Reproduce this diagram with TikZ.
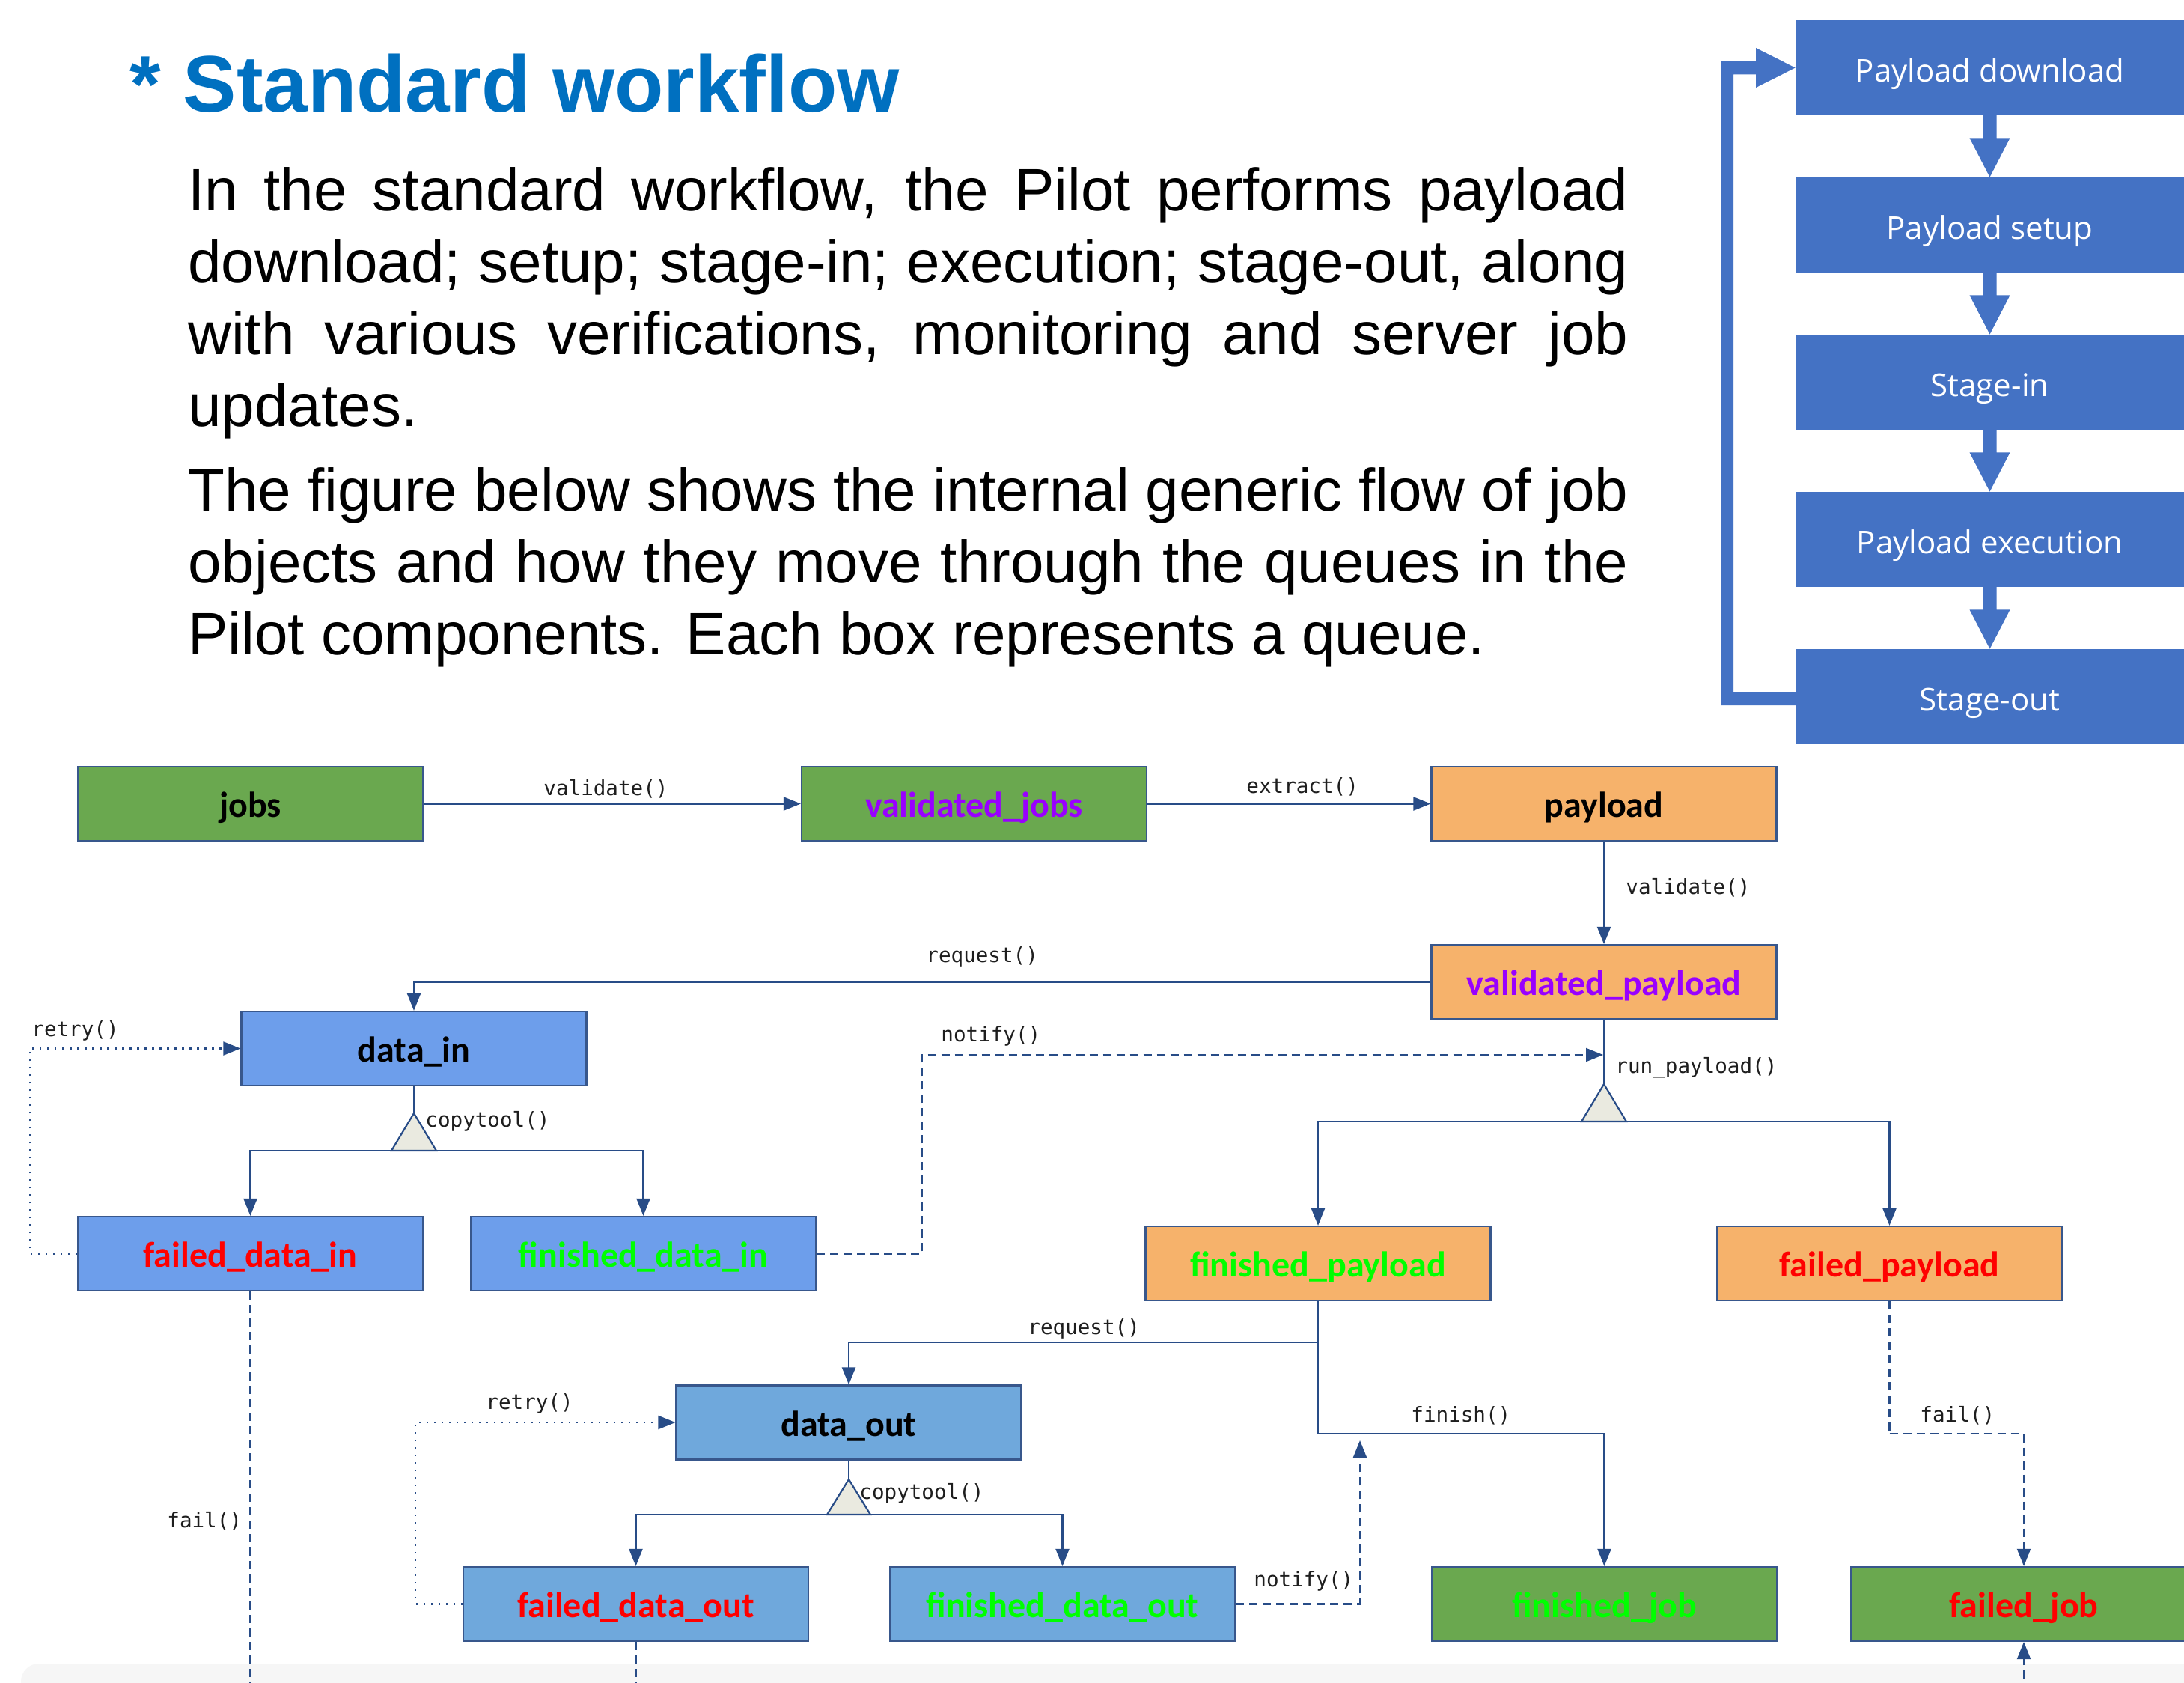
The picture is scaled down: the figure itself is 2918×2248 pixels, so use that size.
\documentclass[tikz,border=0pt]{standalone}
\usepackage{fontspec}
\setmainfont{Liberation Sans}
\newfontfamily\boxfont{Carlito}
\newfontfamily\flowfont{Open Sans}
\newfontfamily\lblfont{DejaVu Sans Mono}
\usetikzlibrary{arrows.meta,calc}
\definecolor{titleblue}{RGB}{0,112,192}
\definecolor{flowblue}{RGB}{68,114,196}
\definecolor{boxgreen}{RGB}{106,168,79}
\definecolor{boxorange}{RGB}{246,178,107}
\definecolor{boxblueA}{RGB}{109,158,235}
\definecolor{boxblueB}{RGB}{111,168,220}
\definecolor{txtpurple}{RGB}{153,0,255}
\definecolor{txtred}{RGB}{255,0,0}
\definecolor{txtgreen}{RGB}{0,255,0}
\definecolor{trifill}{RGB}{234,234,224}
\definecolor{edge}{RGB}{40,76,135}
\definecolor{bord}{RGB}{56,87,140}
\definecolor{lbltext}{RGB}{30,30,30}
\definecolor{band}{RGB}{246,246,246}
\begin{document}
\begin{tikzpicture}[x=0.5pt,y=-0.5pt,
  qbox/.style={rectangle, draw=bord, line width=1.1pt, minimum width=230.5pt, minimum height=49.5pt, inner sep=0pt,
    font=\boxfont\bfseries\fontsize{24}{24}\selectfont, text height=18.5pt, text depth=0.5pt},
  gbox/.style={qbox, fill=boxgreen},
  obox/.style={qbox, fill=boxorange},
  bAbox/.style={qbox, fill=boxblueA},
  bBbox/.style={qbox, fill=boxblueB},
  flowbox/.style={rectangle, fill=flowblue, minimum width=259.5pt, minimum height=63.5pt, inner sep=0pt, text=white,
    font=\flowfont\fontsize{21}{21}\selectfont, text height=19.5pt, text depth=0.5pt},
  lbl/.style={anchor=west, inner sep=0pt, font=\lblfont\fontsize{13.8}{14}\selectfont, text=lbltext},
  para/.style={anchor=base west, inner sep=0pt, font=\fontsize{40}{48}\selectfont},
  conn/.style={draw=edge, line width=1.1pt},
  arr/.style={conn, -{Triangle[length=11.5pt,width=9pt]}},
  dasharr/.style={arr, dash pattern=on 5.5pt off 3.5pt},
  dashline/.style={conn, dash pattern=on 5.5pt off 3.5pt},
  dotarr/.style={arr, dash pattern=on 1.2pt off 3.8pt},
  trishape/.style={fill=trifill, draw=edge, line width=1.1pt, line join=miter}
]
\clip (0,0) rectangle (2918,2248);
\fill[white] (0,0) rectangle (2918,2248);
\fill[band, rounded corners=12pt] (28,2222) rectangle (2960,2300);

% title and text
\node[anchor=base west, inner sep=0pt, font=\bfseries\fontsize{53.5}{60}\selectfont, text=titleblue] (title) at (173,149) {* Standard workflow};
\node[para] (p1) at (251,281) {\makebox[962pt][s]{In the standard workflow, the Pilot performs payload}};
\node[para] (p2) at (251,377) {\makebox[962pt][s]{download; setup; stage-in; execution; stage-out, along}};
\node[para] (p3) at (251,473) {\makebox[962pt][s]{with various verifications, monitoring and server job}};
\node[para] (p4) at (251,569) {updates.};
\node[para] (p5) at (251,682) {\makebox[962pt][s]{The figure below shows the internal generic flow of job}};
\node[para] (p6) at (251,778) {\makebox[962pt][s]{objects and how they move through the queues in the}};
\node[para] (p7) at (251,874) {Pilot components. Each box represents a queue.};

% right flow chart
\node[flowbox] (pd) at (2658.5,90.5) {Payload download};
\node[flowbox] (ps) at (2658.5,300.5) {Payload setup};
\node[flowbox] (si) at (2658.5,510.5) {Stage-in};
\node[flowbox] (pe) at (2658.5,720.5) {Payload execution};
\node[flowbox] (so) at (2658.5,930.5) {Stage-out};
\foreach \a/\b in {pd/ps,ps/si,si/pe,pe/so}{
  \fill[flowblue] ($(\a.south)+(-9,-1)$) -- ($(\a.south)+(9,-1)$) -- ($(\a.south)+(9,30)$) -- ($(\a.south)+(27,30)$)
    -- (\b.north) -- ($(\a.south)+(-27,30)$) -- ($(\a.south)+(-9,30)$) -- cycle;
}
\fill[flowblue] ($(so.west)+(1,11.5)$) -- (2299,942) -- (2299,81.5) -- (2346,81.5) -- (2346,64) -- (pd.west)
  -- (2346,117) -- (2346,99.5) -- (2316,99.5) -- (2316,924) -- ($(so.west)+(1,-6.5)$) -- cycle;

% queue boxes
\node[gbox] (jobs) at (334.5,1073.5) {jobs};
\node[gbox, text=txtpurple] (vjobs) at (1301.5,1073.5) {validated\_jobs};
\node[obox] (payload) at (2143,1073.5) {payload};
\node[obox, text=txtpurple] (vpay) at (2143,1311.5) {validated\_payload};
\node[bAbox] (datain) at (553,1400.5) {data\_in};
\node[bAbox, text=txtred] (faildin) at (334.5,1674.5) {failed\_data\_in};
\node[bAbox, text=txtgreen] (findin) at (859.5,1674.5) {finished\_data\_in};
\node[obox, text=txtgreen] (finpay) at (1761,1687.5) {finished\_payload};
\node[obox, text=txtred] (failpay) at (2524.5,1687.5) {failed\_payload};
\node[bBbox] (dataout) at (1134,1900) {data\_out};
\node[bBbox, text=txtred] (faildout) at (849.5,2142.5) {failed\_data\_out};
\node[bBbox, text=txtgreen] (findout) at (1419.5,2142.5) {finished\_data\_out};
\node[gbox, text=txtgreen] (finjob) at (2143.5,2142.5) {finished\_job};
\node[gbox, text=txtred] (failjob) at (2704,2142.5) {failed\_job};

% helper coordinates
\coordinate (t1) at (553,1537);
\coordinate (t2) at (2143,1498);
\coordinate (t3) at (1134,2023);
\coordinate (nt1) at (2142,1409);
\coordinate (rq2) at (1761,1793);
\coordinate (fj) at (1761,1915);
\coordinate (ffail) at (2524.5,1915);
\coordinate (nt2) at (1817,1924);
\coordinate (bot1) at (334.5,2260);
\coordinate (bot2) at (849.5,2260);
\coordinate (bot3) at (2704,2260);

% connectors
\draw[arr] (jobs.east) -- (vjobs.west);
\draw[arr] (vjobs.east) -- (payload.west);
\draw[arr] (payload.south) -- (vpay.north);
\draw[arr] (vpay.west) -| (datain.north);
\draw[conn] (vpay.south) -- (t2);
\draw[arr] (t2) -| (finpay.north);
\draw[arr] (t2) -| (failpay.north);
\draw[conn] (datain.south) -- (t1);
\draw[arr] (t1) -| (faildin.north);
\draw[arr] (t1) -| (findin.north);
\draw[dotarr] (faildin.west) -- (40,1674.5) |- (datain.west);
\draw[dasharr] (findin.east) -- (1232,1674.5) |- (nt1);
\draw[dashline] (faildin.south) -- (bot1);
\draw[conn] (finpay.south) -- (fj);
\draw[arr] (fj) -| (finjob.north);
\draw[arr] (rq2) -| (dataout.north);
\draw[conn] (dataout.south) -- (t3);
\draw[arr] (t3) -| (faildout.north);
\draw[arr] (t3) -| (findout.north);
\draw[dotarr] (faildout.west) -- (555,2142.5) |- (dataout.west);
\draw[dasharr] (findout.east) -- (1817,2142.5) -- (nt2);
\draw[dashline] (failpay.south) -- (ffail);
\draw[dasharr] (ffail) -| (failjob.north);
\draw[dasharr] (bot3) -- (failjob.south);
\draw[dashline] (faildout.south) -- (bot2);

% triangles
\filldraw[trishape] ($(t1)+(-30,0)$) -- ($(t1)+(30,0)$) -- ($(t1)+(0,-50)$) -- cycle;
\filldraw[trishape] ($(t2)+(-30,0)$) -- ($(t2)+(30,0)$) -- ($(t2)+(0,-50)$) -- cycle;
\filldraw[trishape] ($(t3)+(-29,0)$) -- ($(t3)+(29,0)$) -- ($(t3)+(0,-47)$) -- cycle;

% labels
\node[lbl] (l1) at (726,1054) {validate()};
\node[lbl] (l2) at (1665,1051) {extract()};
\node[lbl] (l3) at (2172,1186) {validate()};
\node[lbl] (l4) at (1237,1278) {request()};
\node[lbl] (l5) at (1257,1384) {notify()};
\node[lbl] (l6) at (2158,1426) {run\_payload()};
\node[lbl] (l7) at (42,1377) {retry()};
\node[lbl] (l8) at (568,1498) {copytool()};
\node[lbl] (l9) at (1373,1775) {request()};
\node[lbl] (l10) at (649,1875) {retry()};
\node[lbl] (l11) at (1148,1995) {copytool()};
\node[lbl] (l12) at (223,2032) {fail()};
\node[lbl] (l13) at (1885,1891) {finish()};
\node[lbl] (l14) at (2565,1891) {fail()};
\node[lbl] (l15) at (1675,2112) {notify()};
\end{tikzpicture}
\end{document}
